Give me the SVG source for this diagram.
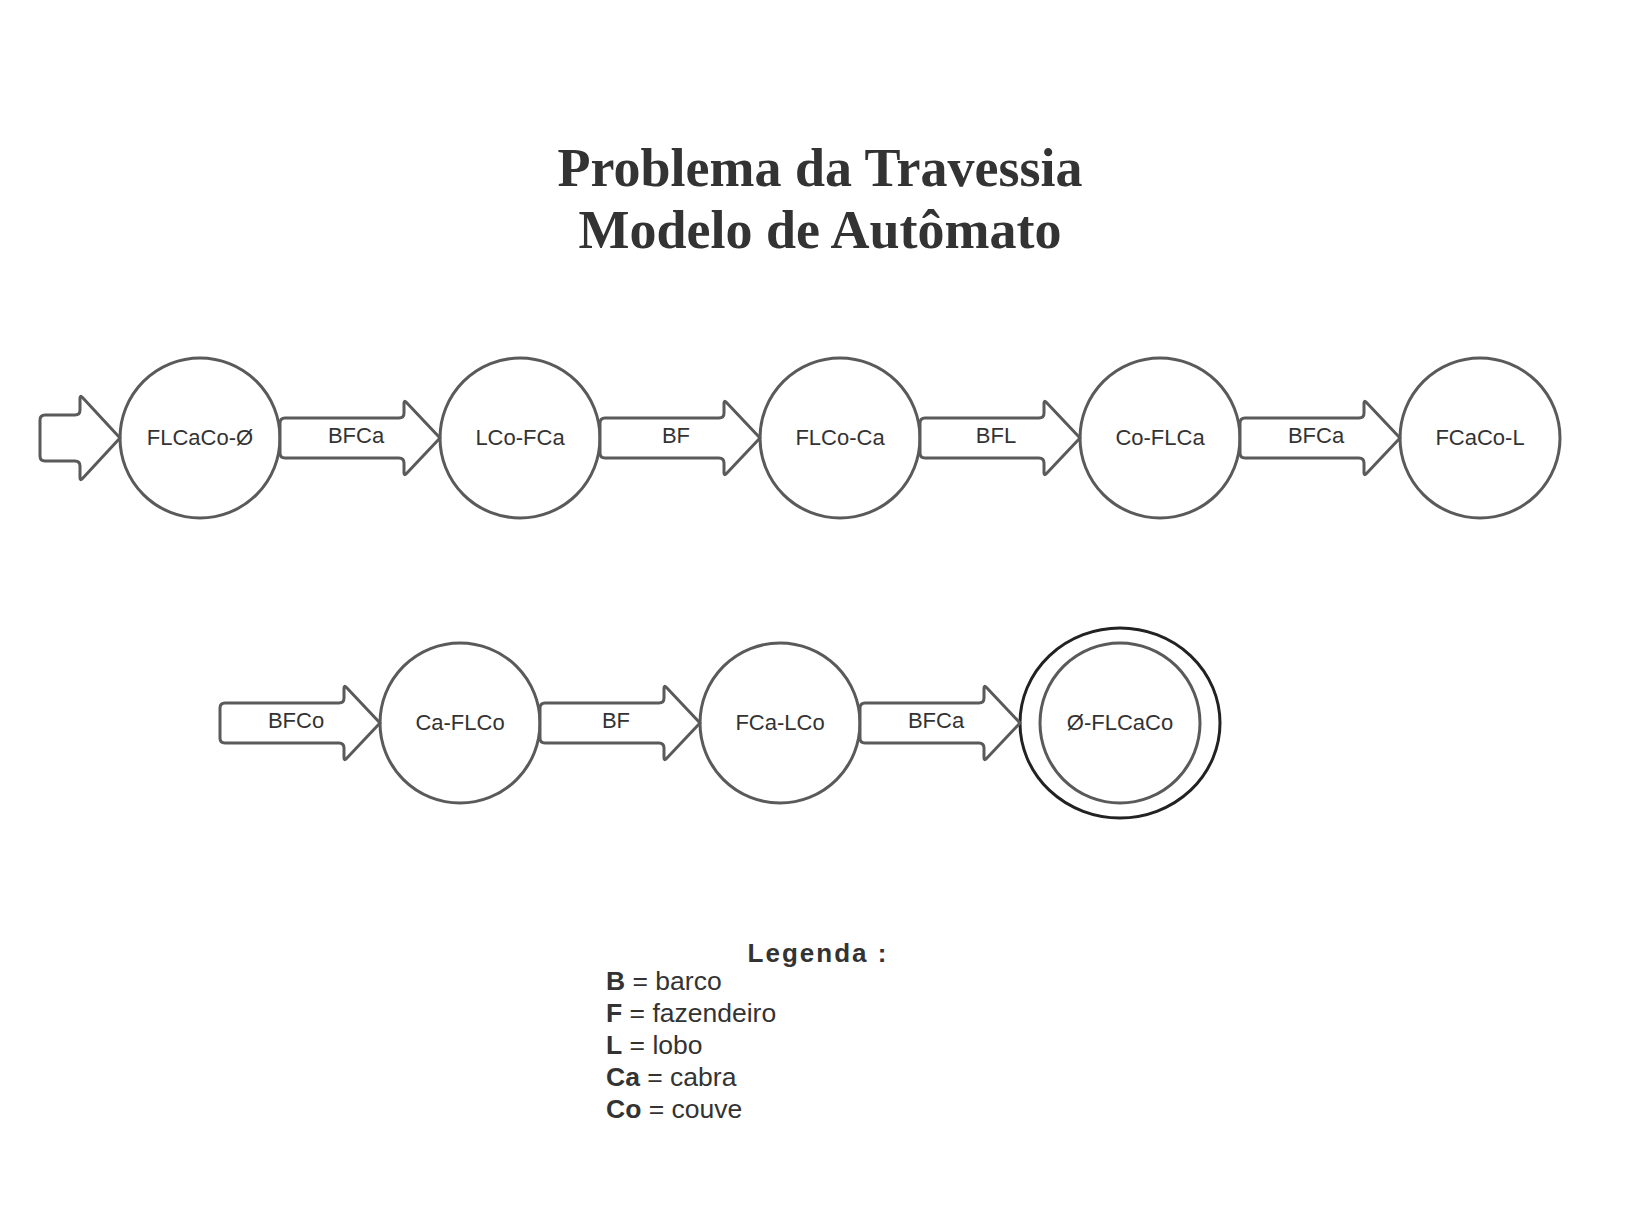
<svg xmlns="http://www.w3.org/2000/svg" xmlns:xlink="http://www.w3.org/1999/xlink" width="1640" height="1210" viewBox="0 0 1640 1210">
  <style>
    .bg { fill: #ffffff; }
    .state { fill: #ffffff; stroke: #5a5a5a; stroke-width: 3; }
    .final-outer { fill: #ffffff; stroke: #222222; stroke-width: 3; }
    .arrow { fill: #ffffff; stroke: #5a5a5a; stroke-width: 3; stroke-linejoin: round; }
    .slabel { font-family: "Liberation Sans", Arial, sans-serif; font-size: 22px; fill: #333333; text-anchor: middle; }
    .tlabel { font-family: "Liberation Sans", Arial, sans-serif; font-size: 22px; fill: #333333; text-anchor: middle; }
    .title { font-family: "Liberation Serif", "Times New Roman", serif; font-weight: bold; font-size: 54px; fill: #333333; text-anchor: middle; }
    .legend-title { font-family: "Liberation Sans", Arial, sans-serif; font-weight: bold; font-size: 26px; fill: #333333; text-anchor: middle; letter-spacing: 2px; }
    .legend { font-family: "Liberation Sans", Arial, sans-serif; font-size: 26.5px; fill: #333333; }
    .legend tspan.k { font-weight: bold; }
  </style>
  <defs>
    <path id="arr" d="M 5 -20 L 119 -20 Q 124 -20 124 -25 L 124 -35 Q 124 -38 126.5 -35.5 L 160 0 L 126.5 35.5 Q 124 38 124 35 L 124 25 Q 124 20 119 20 L 5 20 Q 0 20 0 15 L 0 -15 Q 0 -20 5 -20 Z"/>
  </defs>
  <rect class="bg" x="0" y="0" width="1640" height="1210"/>

  <g id="title">
    <text class="title" x="820" y="186">Problema da Travessia</text>
    <text class="title" x="820" y="248">Modelo de Autômato</text>
  </g>

  <g id="q0">
    <circle class="state" cx="200" cy="438" r="80"/>
    <text class="slabel" x="200" y="445">FLCaCo-Ø</text>
  </g>
  <g id="q1">
    <circle class="state" cx="520" cy="438" r="80"/>
    <text class="slabel" x="520" y="445">LCo-FCa</text>
  </g>
  <g id="q2">
    <circle class="state" cx="840" cy="438" r="80"/>
    <text class="slabel" x="840" y="445">FLCo-Ca</text>
  </g>
  <g id="q3">
    <circle class="state" cx="1160" cy="438" r="80"/>
    <text class="slabel" x="1160" y="445">Co-FLCa</text>
  </g>
  <g id="q4">
    <circle class="state" cx="1480" cy="438" r="80"/>
    <text class="slabel" x="1480" y="445">FCaCo-L</text>
  </g>
  <g id="q5">
    <circle class="state" cx="460" cy="723" r="80"/>
    <text class="slabel" x="460" y="730">Ca-FLCo</text>
  </g>
  <g id="q6">
    <circle class="state" cx="780" cy="723" r="80"/>
    <text class="slabel" x="780" y="730">FCa-LCo</text>
  </g>
  <g id="q7">
    <ellipse class="final-outer" cx="1120" cy="723" rx="100" ry="95"/>
    <circle class="state" cx="1120" cy="723" r="80"/>
    <text class="slabel" x="1120" y="730">Ø-FLCaCo</text>
  </g>

  <g id="connectors">
    <path class="arrow" d="M 45 415 L 75 415 Q 80 415 80 410 L 80 398 Q 80 395 82.5 397.5 L 120 438 L 82.5 478.5 Q 80 481 80 478 L 80 466 Q 80 461 75 461 L 45 461 Q 40 461 40 456 L 40 420 Q 40 415 45 415 Z"/>
    <use class="arrow" xlink:href="#arr" href="#arr" x="280" y="438"/>
    <use class="arrow" xlink:href="#arr" href="#arr" x="600" y="438"/>
    <use class="arrow" xlink:href="#arr" href="#arr" x="920" y="438"/>
    <use class="arrow" xlink:href="#arr" href="#arr" x="1240" y="438"/>
    <use class="arrow" xlink:href="#arr" href="#arr" x="220" y="723"/>
    <use class="arrow" xlink:href="#arr" href="#arr" x="540" y="723"/>
    <use class="arrow" xlink:href="#arr" href="#arr" x="860" y="723"/>
    <text class="tlabel" x="356" y="443">BFCa</text>
    <text class="tlabel" x="676" y="443">BF</text>
    <text class="tlabel" x="996" y="443">BFL</text>
    <text class="tlabel" x="1316" y="443">BFCa</text>
    <text class="tlabel" x="296" y="728">BFCo</text>
    <text class="tlabel" x="616" y="728">BF</text>
    <text class="tlabel" x="936" y="728">BFCa</text>
  </g>

  <g id="legend">
    <text class="legend-title" x="818" y="962">Legenda :</text>
    <text class="legend" x="606" y="990"><tspan class="k">B</tspan> = barco</text>
    <text class="legend" x="606" y="1022"><tspan class="k">F</tspan> = fazendeiro</text>
    <text class="legend" x="606" y="1054"><tspan class="k">L</tspan> = lobo</text>
    <text class="legend" x="606" y="1086"><tspan class="k">Ca</tspan> = cabra</text>
    <text class="legend" x="606" y="1118"><tspan class="k">Co</tspan> = couve</text>
  </g>
</svg>
